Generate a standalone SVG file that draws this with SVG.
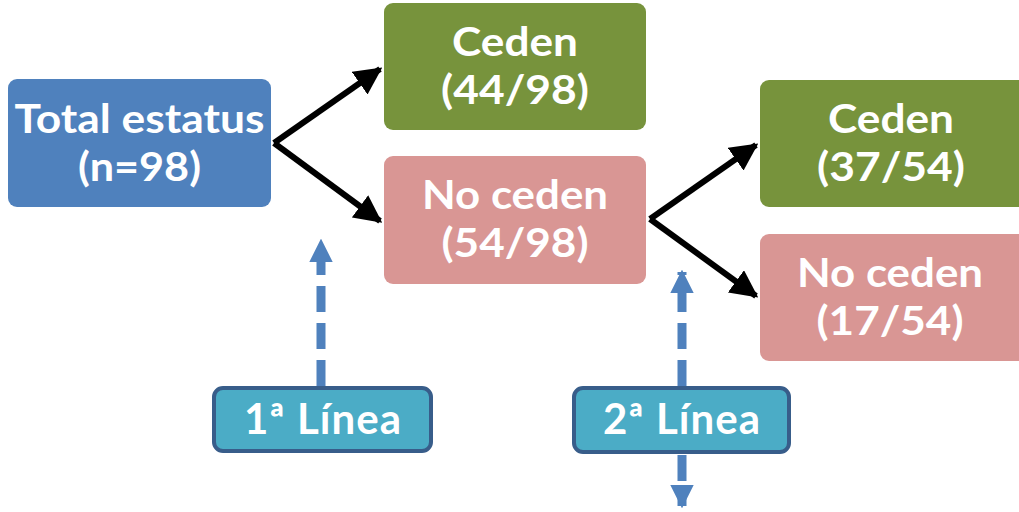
<svg xmlns="http://www.w3.org/2000/svg" width="1019" height="512" viewBox="0 0 1019 512">
  <style>
    .t { font-family: Lato, "Open Sans", "Liberation Sans", sans-serif; font-weight: bold; fill: #ffffff; text-anchor: middle; }
    .big { font-size: 40px; }
    .lab { font-size: 42px; }
    .blue { fill: #4f81bd; }
    .green { fill: #77933c; }
    .pink { fill: #d99694; }
    .tag { fill: #4bacc6; stroke: #385d8a; stroke-width: 4; }
    .flow { stroke: #000000; stroke-width: 6; fill: none; }
    .dash { stroke: #4f81bd; stroke-width: 9; fill: none; stroke-dasharray: 26 11; }
  </style>
  <defs>
    <marker id="blk" viewBox="0 0 10 10" refX="9" refY="5" markerWidth="4.6" markerHeight="4.6" orient="auto" markerUnits="strokeWidth">
      <path d="M0,0 L10,5 L0,10 z" fill="#000000"/>
    </marker>
    <marker id="bl" viewBox="0 0 10 10" refX="9" refY="5" markerWidth="2.6" markerHeight="2.6" orient="auto" markerUnits="strokeWidth">
      <path d="M0,0 L10,5 L0,10 z" fill="#4f81bd"/>
    </marker>
  </defs>

  <g id="connectors">
    <line class="flow" x1="274" y1="143" x2="380" y2="69" marker-end="url(#blk)"/>
    <line class="flow" x1="274" y1="143" x2="380" y2="221" marker-end="url(#blk)"/>
    <line class="flow" x1="650" y1="219" x2="756" y2="145" marker-end="url(#blk)"/>
    <line class="flow" x1="650" y1="219" x2="756" y2="296" marker-end="url(#blk)"/>
    <line class="dash" x1="321" y1="386" x2="321" y2="241" marker-end="url(#bl)"/>
    <line class="dash" x1="682" y1="386" x2="682" y2="272" marker-end="url(#bl)"/>
    <line class="dash" x1="682" y1="455" x2="682" y2="506" marker-end="url(#bl)"/>
  </g>

  <g id="total">
    <rect class="blue" x="8" y="79" width="263" height="128" rx="9"/>
    <text class="t big" x="139.5" y="133" textLength="250" lengthAdjust="spacingAndGlyphs">Total estatus</text>
    <text class="t big" x="139.5" y="181" textLength="123" lengthAdjust="spacingAndGlyphs">(n=98)</text>
  </g>

  <g id="ceden1">
    <rect class="green" x="384" y="3" width="262" height="127" rx="9"/>
    <text class="t big" x="515" y="56" textLength="126" lengthAdjust="spacingAndGlyphs">Ceden</text>
    <text class="t big" x="515" y="104" textLength="148" lengthAdjust="spacingAndGlyphs">(44/98)</text>
  </g>

  <g id="noceden1">
    <rect class="pink" x="384" y="156" width="262" height="128" rx="9"/>
    <text class="t big" x="515" y="209" textLength="186" lengthAdjust="spacingAndGlyphs">No ceden</text>
    <text class="t big" x="515" y="257" textLength="147" lengthAdjust="spacingAndGlyphs">(54/98)</text>
  </g>

  <g id="ceden2">
    <rect class="green" x="760" y="80" width="268" height="127" rx="9"/>
    <text class="t big" x="891" y="133" textLength="126" lengthAdjust="spacingAndGlyphs">Ceden</text>
    <text class="t big" x="891" y="181" textLength="148" lengthAdjust="spacingAndGlyphs">(37/54)</text>
  </g>

  <g id="noceden2">
    <rect class="pink" x="760" y="234" width="268" height="127" rx="9"/>
    <text class="t big" x="890" y="287" textLength="186" lengthAdjust="spacingAndGlyphs">No ceden</text>
    <text class="t big" x="890" y="335" textLength="147" lengthAdjust="spacingAndGlyphs">(17/54)</text>
  </g>

  <g id="linea1">
    <rect class="tag" x="214" y="388" width="217" height="63" rx="9"/>
    <text class="t lab" x="322.5" y="434" textLength="157">1ª Línea</text>
  </g>

  <g id="linea2">
    <rect class="tag" x="574" y="388" width="215" height="64" rx="9"/>
    <text class="t lab" x="681.5" y="434" textLength="157">2ª Línea</text>
  </g>
</svg>
